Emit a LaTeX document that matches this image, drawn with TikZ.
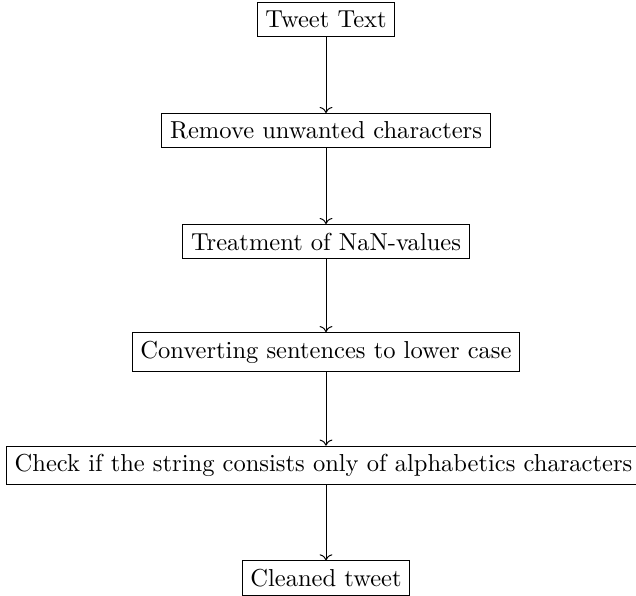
\documentclass[tikz,border=0pt]{standalone}
\usetikzlibrary{arrows.meta}
\begin{document}
\begin{tikzpicture}[x=0.4077pt,y=-0.4077pt,
  stepbox/.style={draw,rectangle,inner sep=3.33pt},
  flow/.style={draw,->}]
\useasboundingbox (0,0) rectangle (636,596);
\node[stepbox] (tweet) at (326,19.5) {Tweet Text};
\node[stepbox] (remove) at (326,130.5) {Remove unwanted characters};
\node[stepbox] (nan) at (326,241.5) {Treatment of NaN-values};
\node[stepbox] (lower) at (326,352) {Converting sentences to lower case};
\node[stepbox] (alpha) at (323.5,465.5) {Check if the string consists only of alphabetics characters};
\node[stepbox] (clean) at (326,578) {Cleaned tweet};
\draw[flow] (tweet) -- (remove);
\draw[flow] (remove) -- (nan);
\draw[flow] (nan) -- (lower);
\draw[flow] (lower) -- (tweet |- alpha.north);
\draw[flow] (tweet |- alpha.south) -- (clean);
\end{tikzpicture}
\end{document}
